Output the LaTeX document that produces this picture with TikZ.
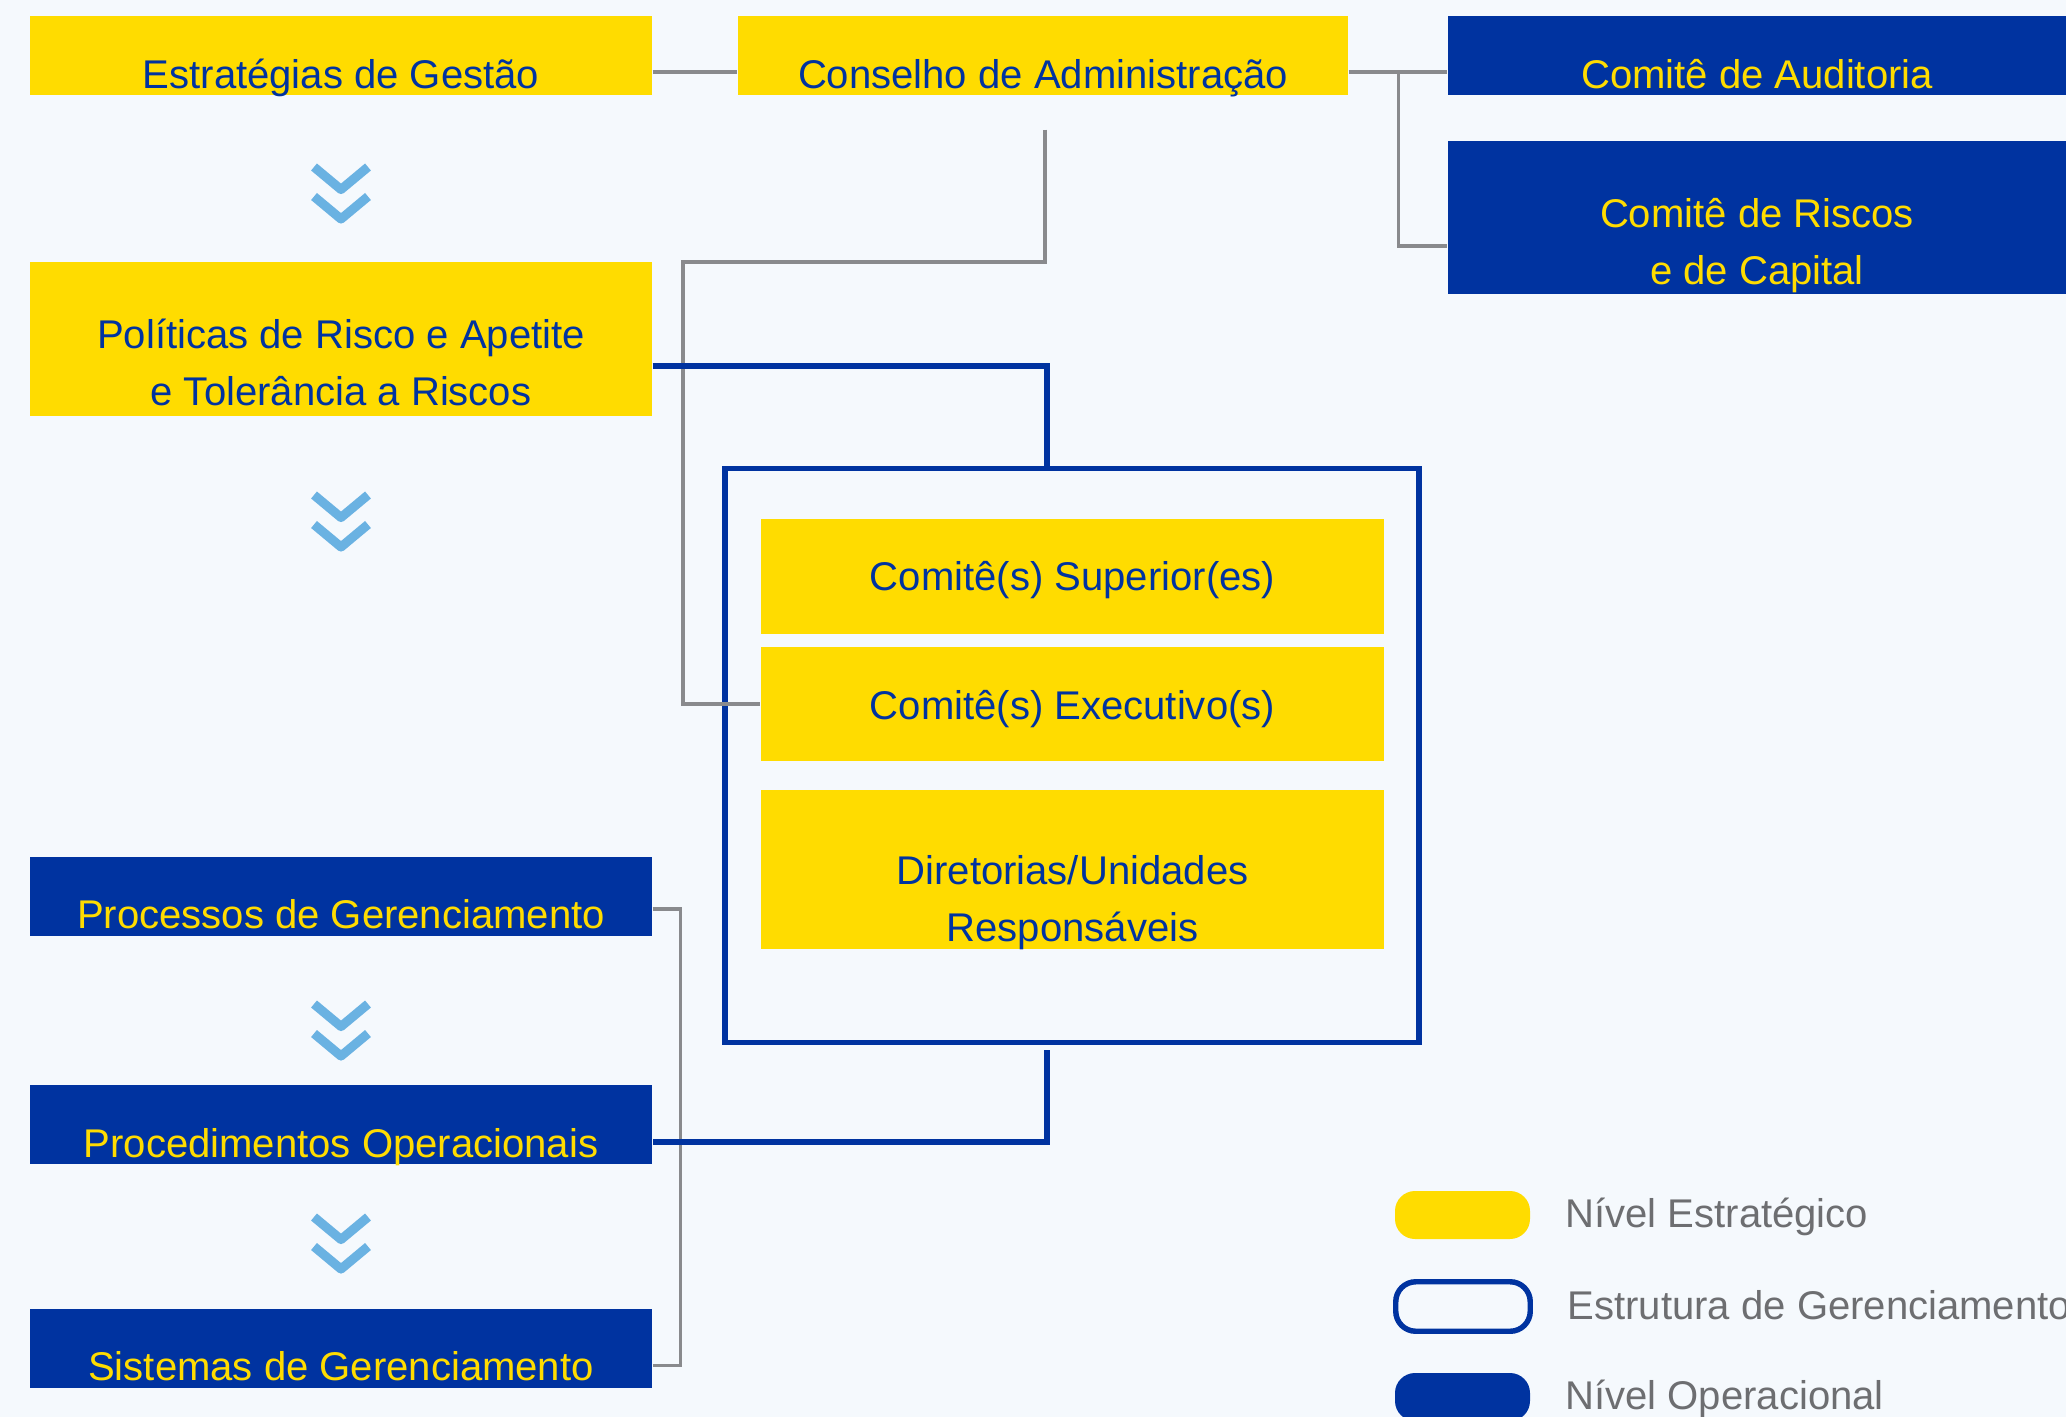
\documentclass[tikz,border=0pt]{standalone}
\usepackage{fontspec}
\setmainfont{Liberation Sans}
\usetikzlibrary{calc, positioning}
\definecolor{cyel}{HTML}{FFDC00}
\definecolor{cblu}{HTML}{0033A0}
\definecolor{cgry}{HTML}{898A8D}
\definecolor{ctxt}{HTML}{6D6E71}
\definecolor{csky}{HTML}{6AB2E2}
\definecolor{cbg}{HTML}{F5F9FD}

\begin{document}
\begin{tikzpicture}[
    ybox/.style={rectangle, fill=cyel, text=cblu, inner sep=0pt, align=center, text depth=0.05cm, font=\fontsize{11.4}{16.2}\selectfont},
    bbox/.style={ybox, fill=cblu, text=cyel},
    gline/.style={draw=cgry, line width=0.95pt},
    bline/.style={draw=cblu, line width=1.5pt},
    chev/.style={draw=csky, line width=2.6pt, line join=round},
    pill/.style={rectangle, rounded corners=0.2cm, minimum width=1.35cm, minimum height=0.48cm},
    legtxt/.style={inner sep=0pt, text=ctxt, text height=0.3cm, text depth=0.05cm, font=\fontsize{11.4}{14}\selectfont}]
    \fill[cbg] (0,0) rectangle (20.66,-14.17);
    \useasboundingbox (0,0) rectangle (20.66,-14.17);
    \begin{scope}[every node/.append style={minimum height=0.79cm, text height=0.70cm}]
        \node (est) [ybox, minimum width=6.22cm] at (3.41,-0.555) {Estratégias de Gestão};
        \node (cons) [ybox, minimum width=6.10cm] at (10.43,-0.555) {Conselho de Administração};
        \node (aud) [bbox, minimum width=6.18cm] at (17.57,-0.555) {Comitê de Auditoria};
        \node (proc) [bbox, minimum width=6.22cm] at (3.41,-8.96) {Processos de Gerenciamento};
        \node (pdto) [bbox, minimum width=6.22cm] at (3.41,-11.245) {Procedimentos Operacionais};
        \node (sis) [bbox, minimum width=6.22cm] at (3.41,-13.48) {Sistemas de Gerenciamento};
    \end{scope}
    \node (risc) [bbox, minimum width=6.18cm, minimum height=1.53cm, text height=1.385cm] at (17.57,-2.175) {Comitê de Riscos\\e de Capital};
    \node (pol) [ybox, minimum width=6.22cm, minimum height=1.54cm, text height=1.385cm] at (3.41,-3.39) {Políticas de Risco e Apetite\\e Tolerância a Riscos};
    \node (frame) [draw=cblu, line width=1.7pt, minimum width=6.94cm, minimum height=5.74cm] at (10.72,-7.555) {};
    \begin{scope}[every node/.append style={minimum width=6.23cm}]
        \node (sup) [ybox, minimum height=1.15cm, text height=0.32cm] at (10.725,-5.765) {Comitê(s) Superior(es)};
        \node (exe) [ybox, minimum height=1.14cm, text height=0.35cm] at (10.725,-7.04) {Comitê(s) Executivo(s)};
        \node (dir) [ybox, minimum height=1.59cm, text height=1.49cm] at (10.725,-8.695) {Diretorias/Unidades\\Responsáveis};
    \end{scope}
    \foreach \cy in {-1.62,-4.90,-9.99,-12.12} {
        \draw[chev] (3.14,\cy-0.05) -- (3.41,\cy-0.275) -- (3.68,\cy-0.05);
        \draw[chev] (3.14,\cy-0.345) -- (3.41,\cy-0.57) -- (3.68,\cy-0.345);
    }
    \coordinate (gx) at (6.83,-2.62);
    \draw[gline] ($(est.east)+(0,-0.165)$) -- ($(cons.west)+(0,-0.165)$);
    \draw[gline] ($(cons.east)+(0,-0.165)$) -- ($(aud.west)+(0,-0.165)$);
    \draw[gline] ($(cons.east)+(0.5,-0.165)$) |- ($(risc.west)+(0,-0.285)$);
    \draw[gline] ($(cons.south)+(0.02,-0.34)$) |- (gx) |- (exe.west);
    \draw[gline] ($(proc.east)+(0,-0.13)$) -- ++(0.28,0) |- ($(sis.east)+(0,-0.175)$);
    \draw[bline] ($(pol.east)+(0,-0.27)$) -| ($(frame.north -| cons.south)+(0.04,0)$);
    \draw[bline] ($(frame.south -| cons.south)+(0.04,-0.05)$) |- ($(pdto.east)+(0,-0.175)$);
    \node (lgs) [pill, fill=cyel] at (14.625,-12.15) {};
    \node (lgm) [pill, draw=cblu, line width=1.55pt, minimum width=1.345cm, minimum height=0.495cm] at (14.63,-13.065) {};
    \node (lgo) [pill, fill=cblu] at (14.625,-13.97) {};
    \node (ts) [legtxt, right=0.34cm of lgs] {Nível Estratégico};
    \node (tm) [legtxt, right=0.34cm of lgm] {Estrutura de Gerenciamento};
    \node (to) [legtxt, right=0.34cm of lgo] {Nível Operacional};
\end{tikzpicture}
\end{document}
